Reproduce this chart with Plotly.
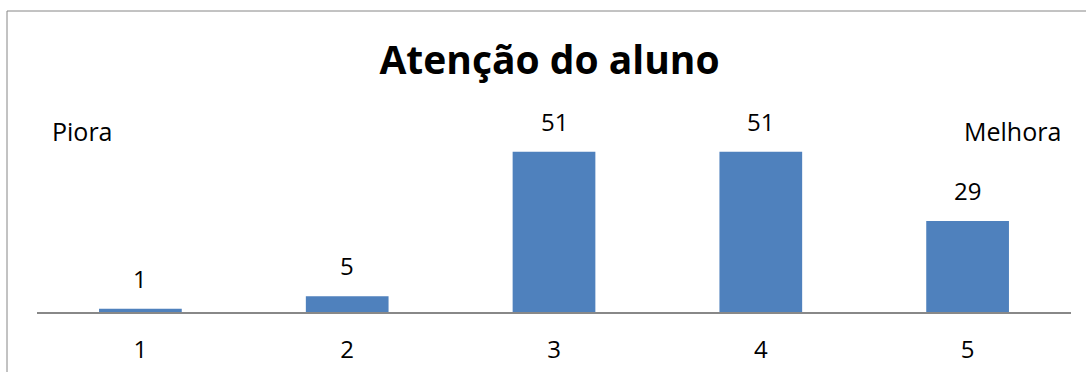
import plotly.graph_objects as go

categories = ["1", "2", "3", "4", "5"]
values = [1, 5, 51, 51, 29]
title_text = "Atenção do aluno"
left_label = "Piora"
right_label = "Melhora"

W, H = 1086, 372
ml, mr, mt, mb = 37, 15, 100, 60
pw = W - ml - mr
ph = H - mt - mb
px_per_unit = 3.14
ymax = ph / px_per_unit

FONT = "Open Sans"

fig = go.Figure()
fig.add_trace(go.Bar(
    x=categories, y=values,
    marker=dict(color="#4F81BD", line=dict(width=0)),
    width=0.4,
))

# value labels above bars
for i, v in enumerate(values):
    fig.add_annotation(
        x=i, y=v, xref="x", yref="y", text=str(v), showarrow=False,
        yanchor="bottom", yshift=12,
        font=dict(family=FONT, size=24, color="#000000"),
    )

# Piora / Melhora
fig.add_annotation(x=(82 - ml) / pw, y=(312 - 131) / ph, xref="paper", yref="paper",
                   text=left_label, showarrow=False, xanchor="center", yanchor="middle",
                   font=dict(family=FONT, size=25, color="#000000"))
fig.add_annotation(x=(1012 - ml) / pw, y=(312 - 131) / ph, xref="paper", yref="paper",
                   text=right_label, showarrow=False, xanchor="center", yanchor="middle",
                   font=dict(family=FONT, size=25, color="#000000"))

# chart border
fig.add_shape(type="rect", xref="paper", yref="paper",
              x0=(7 - ml) / pw, x1=1.2, y0=-1.0, y1=(312 - 11) / ph,
              line=dict(color="#868686", width=1), fillcolor="rgba(0,0,0,0)", layer="below")

fig.update_layout(
    width=W, height=H,
    margin=dict(l=ml, r=mr, t=mt, b=mb, autoexpand=False),
    paper_bgcolor="white", plot_bgcolor="white",
    showlegend=False,
    title=dict(text="<b>" + title_text + "</b>", x=549.5 / W, xanchor="center",
               y=1 - 60 / H, yanchor="middle", yref="container",
               font=dict(family=FONT, size=39, color="#000000")),
    bargap=0.6,
)
fig.update_xaxes(
    type="category", range=[-0.5, 4.5], showgrid=False, zeroline=False,
    showline=True, linecolor="#888888", linewidth=1.5,
    ticks="", ticklabelstandoff=15, automargin=False,
    tickfont=dict(family=FONT, size=24, color="#000000"),
)
fig.update_yaxes(range=[0, ymax], visible=False, showgrid=False, zeroline=False,
                 automargin=False)

fig.write_html("out.html")
